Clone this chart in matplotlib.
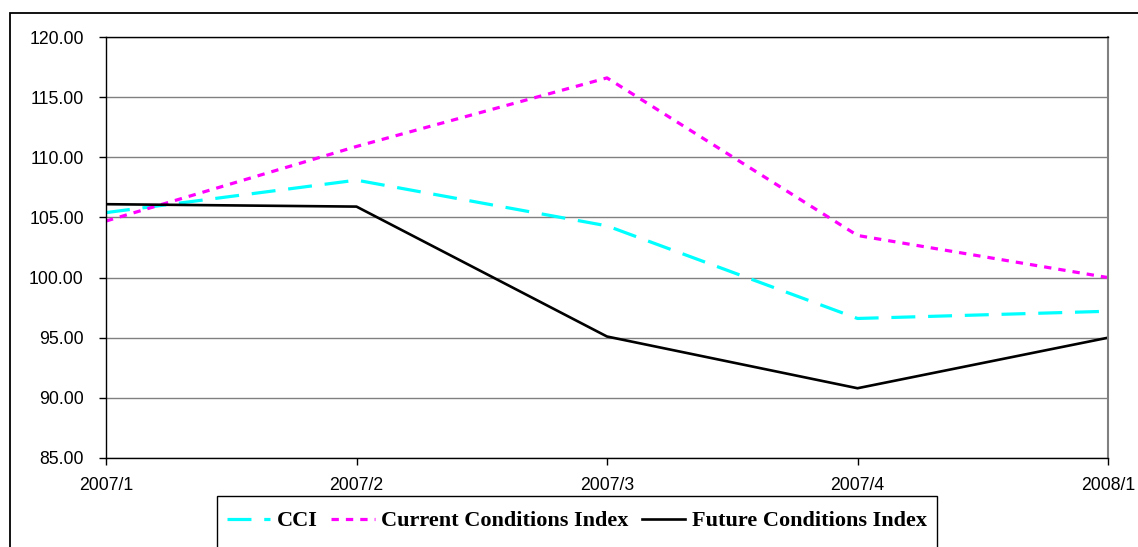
import numpy as np
from matplotlib import pyplot as plt
from matplotlib.patches import Rectangle

quarters = ["2007/1", "2007/2", "2007/3", "2007/4", "2008/1"]
cci = [105.4, 108.1, 104.3, 96.6, 97.2]
current_idx = [104.7, 110.9, 116.6, 103.5, 100.0]
future_idx = [106.1, 105.9, 95.1, 90.8, 95.0]

plt.rcParams['font.family'] = ['Liberation Sans', 'DejaVu Sans']

fig = plt.figure(figsize=(11.38, 5.47), dpi=100)
ax = fig.add_axes([106/1138, 1 - 458/547, (1108 - 106)/1138, (458 - 37)/547])

x = np.arange(len(quarters))
l1, = ax.plot(x, cci, color="#00FFFF", lw=2.3, dashes=(7.5, 4), label="CCI")
l2, = ax.plot(x, current_idx, color="#FF00FF", lw=2.3, dashes=(2.3, 2.2),
              label="Current Conditions Index")
l3, = ax.plot(x, future_idx, color="black", lw=1.9, label="Future Conditions Index")

ax.set_xlim(0, 4)
ax.set_ylim(85, 120)
ax.set_yticks(np.arange(85, 121, 5))
ax.set_yticklabels(["%.2f" % v for v in np.arange(85, 121, 5)])
ax.set_xticks(x)
ax.set_xticklabels(quarters)
ax.yaxis.grid(True, color="#808080", lw=1)
ax.set_axisbelow(True)
ax.tick_params(axis="y", direction="out", length=5, width=1, pad=11, labelsize=12.7)
ax.tick_params(axis="x", direction="out", length=5, width=1, pad=9, labelsize=12.7)
for s in ["left", "bottom", "top"]:
    ax.spines[s].set_color("black")
    ax.spines[s].set_linewidth(1)
ax.spines["right"].set_color("#808080")
ax.spines["right"].set_linewidth(1.5)

leg = fig.legend(handles=[l1, l2, l3], loc="center left",
                 bbox_to_anchor=(217/1138, 1 - 521/547), ncol=3,
                 frameon=False, borderpad=0.45, borderaxespad=0,
                 handlelength=1.95, handletextpad=0.3, columnspacing=0.6,
                 prop={"family": "Liberation Serif", "weight": "bold", "size": 16})

# legend box, runs off the bottom of the picture
fig.patches.append(Rectangle((217/1138, -0.05), (937 - 217)/1138, 0.05 + 1 - 496/547,
                             transform=fig.transFigure, fill=False,
                             edgecolor="black", lw=1))

# outer chart frame
fig.patches.append(Rectangle((10/1138, -0.1), 1.1, 1 - 13/547 + 0.1,
                             transform=fig.transFigure, fill=False,
                             edgecolor="black", lw=1.3))

fig.savefig("out.png", dpi=100)
